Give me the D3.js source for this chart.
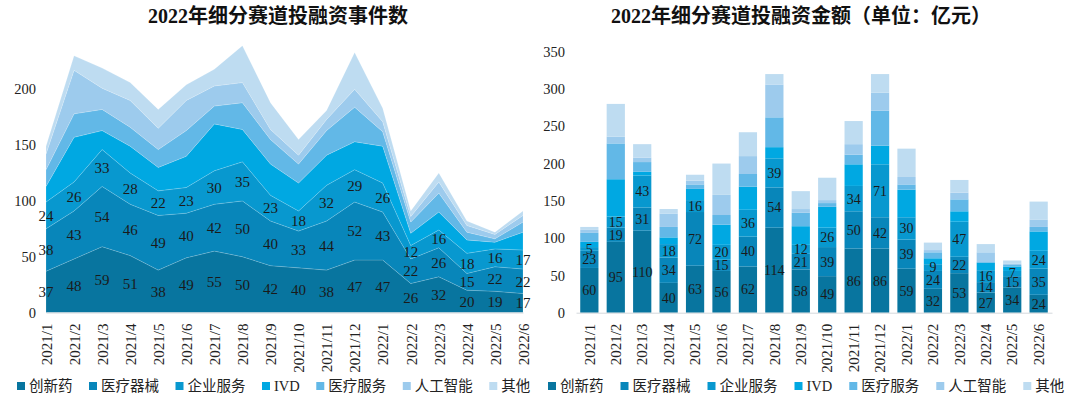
<!DOCTYPE html>
<html>
<head>
<meta charset="utf-8">
<script src="https://cdn.jsdelivr.net/npm/d3@7/dist/d3.min.js"></script>
<style>
  body { margin: 0; background: #fff; }
  svg { display: block; }
</style>
</head>
<body>
<div id="chart"></div>
<script>
// Categories
var months = ['2021/1', '2021/2', '2021/3', '2021/4', '2021/5', '2021/6', '2021/7', '2021/8', '2021/9',
  '2021/10', '2021/11', '2021/12', '2022/1', '2022/2', '2022/3', '2022/4', '2022/5', '2022/6'];
var sectors = ['创新药', '医疗器械', '企业服务', 'IVD', '医疗服务', '人工智能', '其他'];

// Deal counts per sector
var countDrug = [37, 48, 59, 51, 38, 49, 55, 50, 42, 40, 38, 47, 47, 26, 32, 20, 19, 17];
var countDevice = [38, 43, 54, 46, 49, 40, 42, 50, 40, 33, 44, 52, 43, 22, 26, 15, 22, 22];
var countEnterprise = [24, 26, 33, 28, 22, 23, 30, 35, 23, 18, 32, 29, 26, 12, 16, 18, 16, 17];
var countIVD = [14, 40, 17, 24, 21, 28, 42, 29, 28, 25, 27, 25, 33, 11, 16, 12, 6, 16];
var countMedService = [15, 21, 19, 17, 16, 23, 16, 24, 22, 17, 22, 31, 13, 10, 17, 7, 3, 9];
var countAI = [14, 39, 19, 24, 19, 27, 18, 18, 9, 8, 10, 16, 9, 5, 10, 6, 4, 6];
var countOther = [7, 13, 18, 16, 17, 14, 15, 33, 24, 14, 8, 33, 12, 5, 8, 4, 2, 4];

// Financing amounts per sector (亿元)
var amountDrug = [60, 95, 110, 40, 63, 56, 62, 114, 58, 49, 86, 86, 59, 32, 53, 27, 34, 24];
var amountDevice = [23, 19, 31, 34, 72, 15, 40, 54, 21, 39, 50, 42, 39, 24, 22, 14, 15, 35];
var amountEnterprise = [5, 15, 43, 18, 16, 20, 36, 39, 12, 26, 34, 71, 30, 9, 47, 16, 7, 24];
var amountIVD = [7, 50, 5, 9, 15, 27, 31, 15, 25, 28, 29, 25, 37, 8, 14, 10, 6, 26];
var amountMedService = [12, 48, 13, 14, 6, 13, 17, 40, 18, 5, 13, 47, 7, 8, 16, 1, 2, 6];
var amountAI = [4, 9, 6, 18, 5, 27, 24, 44, 5, 4, 14, 24, 10, 3, 9, 13, 2, 10];
var amountOther = [4, 44, 18, 6, 8, 42, 32, 14, 24, 30, 31, 25, 38, 10, 17, 11, 4, 24];

// Tick labels
var countTicks = [0, 50, 100, 150, 200];
var amountTicks = [0, 50, 100, 150, 200, 250, 300, 350];

var colors = ['#08759f', '#0886ba', '#0898cf', '#00a8e2', '#62b8e7', '#9dcbed', '#bedcf1'];
var serif = '"Liberation Serif", "Times New Roman", "Noto Sans CJK SC", serif';
var labelCount = 3; // only the first three sectors carry value labels

function buildRows(seriesList) {
  return months.map(function (m, i) {
    var row = { month: m };
    sectors.forEach(function (s, k) {
      row[s] = seriesList[k][i];
    });
    return row;
  });
}

var svg = d3
  .select('#chart')
  .append('svg')
  .attr('width', 1080)
  .attr('height', 398)
  .style('font-family', serif);

svg.append('rect').attr('width', 1080).attr('height', 398).attr('fill', '#fff');

var stack = d3.stack().keys(sectors);

function drawTitle(text, cx) {
  svg
    .append('text')
    .attr('x', cx)
    .attr('y', 23)
    .attr('text-anchor', 'middle')
    .style('font-size', '20px')
    .style('font-weight', 'bold')
    .style('fill', '#111')
    .text(text);
}

function styleYAxis(g) {
  g.select('.domain').remove();
  g.selectAll('text').style('font-size', '14.5px').style('fill', '#222').style('font-family', serif);
}

function styleXAxis(g, offset) {
  g.select('.domain').attr('stroke', '#d4d8dc');
  g.selectAll('text')
    .attr('transform', 'rotate(-90)')
    .attr('text-anchor', 'end')
    .attr('x', -offset)
    .attr('y', 0)
    .attr('dy', '0.35em')
    .style('font-size', '15px')
    .style('fill', '#222')
    .style('font-family', serif);
}

function drawLegend(startX, gap) {
  var legend = svg.append('g').attr('transform', 'translate(' + startX + ',386)');
  var cursor = 0;
  sectors.forEach(function (s, i) {
    var item = legend.append('g').attr('transform', 'translate(' + cursor + ',0)');
    item.append('rect').attr('x', 0).attr('y', -4).attr('width', 8).attr('height', 8).attr('fill', colors[i]);
    var t = item
      .append('text')
      .attr('x', 12)
      .attr('dy', '0.36em')
      .style('font-size', '14.5px')
      .style('fill', '#222')
      .text(s);
    cursor += 12 + t.node().getComputedTextLength() + gap;
  });
}

// Left: stacked area of deal counts
function createCountChart() {
  var layers = stack(buildRows([countDrug, countDevice, countEnterprise, countIVD, countMedService, countAI, countOther]));

  var x = d3.scalePoint().domain(months).range([46, 523]);
  var y = d3.scaleLinear().domain([0, 200]).range([312.5, 89.3]);

  var area = d3
    .area()
    .x(function (d) {
      return x(d.data.month);
    })
    .y0(function (d) {
      return y(d[0]);
    })
    .y1(function (d) {
      return y(d[1]);
    });

  var g = svg.append('g');

  g.selectAll('path.layer')
    .data(layers)
    .enter()
    .append('path')
    .attr('class', 'layer')
    .attr('fill', function (d, i) {
      return colors[i];
    })
    .attr('stroke', 'rgba(255,255,255,0.25)')
    .attr('stroke-width', 0.6)
    .attr('d', area);

  layers.slice(0, labelCount).forEach(function (layer) {
    g.selectAll(null)
      .data(layer)
      .enter()
      .append('text')
      .attr('x', function (d) {
        return x(d.data.month);
      })
      .attr('y', function (d) {
        return y((d[0] + d[1]) / 2);
      })
      .attr('dy', '0.35em')
      .attr('text-anchor', 'middle')
      .style('font-size', '15px')
      .style('fill', '#1a1a1a')
      .text(function (d) {
        return d[1] - d[0];
      });
  });

  svg.append('g')
    .attr('transform', 'translate(36,0)')
    .call(d3.axisLeft(y).tickValues(countTicks).tickSize(0).tickPadding(0))
    .call(styleYAxis);

  svg.append('g')
    .attr('transform', 'translate(0,312.5)')
    .call(d3.axisBottom(x).tickSize(0).tickSizeOuter(0))
    .call(styleXAxis, 11);
}

// Right: stacked bars of financing amounts
function createAmountChart() {
  var layers = stack(buildRows([amountDrug, amountDevice, amountEnterprise, amountIVD, amountMedService, amountAI, amountOther]));

  var x = d3.scaleBand().domain(months).range([576, 1052]).paddingInner(0.31).paddingOuter(0.16);
  var y = d3.scaleLinear().domain([0, 350]).range([312.7, 51.7]);

  var g = svg.append('g');

  var layer = g
    .selectAll('g.layer')
    .data(layers)
    .enter()
    .append('g')
    .attr('class', 'layer')
    .attr('fill', function (d, i) {
      return colors[i];
    });

  layer
    .selectAll('rect')
    .data(function (d) {
      return d;
    })
    .enter()
    .append('rect')
    .attr('x', function (d) {
      return x(d.data.month);
    })
    .attr('width', x.bandwidth())
    .attr('y', function (d) {
      return y(d[1]);
    })
    .attr('height', function (d) {
      return y(d[0]) - y(d[1]);
    });

  layers.slice(0, labelCount).forEach(function (l) {
    g.selectAll(null)
      .data(l)
      .enter()
      .append('text')
      .attr('x', function (d) {
        return x(d.data.month) + x.bandwidth() / 2;
      })
      .attr('y', function (d) {
        return y((d[0] + d[1]) / 2);
      })
      .attr('dy', '0.35em')
      .attr('text-anchor', 'middle')
      .style('font-size', '14px')
      .style('fill', '#1a1a1a')
      .text(function (d) {
        return d[1] - d[0];
      });
  });

  svg.append('g')
    .attr('transform', 'translate(565,0)')
    .call(d3.axisLeft(y).tickValues(amountTicks).tickSize(0).tickPadding(0))
    .call(styleYAxis);

  svg.append('g')
    .attr('transform', 'translate(0,312.7)')
    .call(d3.axisBottom(x).tickSize(0).tickSizeOuter(0))
    .call(styleXAxis, 11);
}

drawTitle('2022年细分赛道投融资事件数', 278);
drawTitle('2022年细分赛道投融资金额（单位：亿元）', 801);
createCountChart();
createAmountChart();
drawLegend(17, 16.5);
drawLegend(548, 17);
</script>
</body>
</html>
